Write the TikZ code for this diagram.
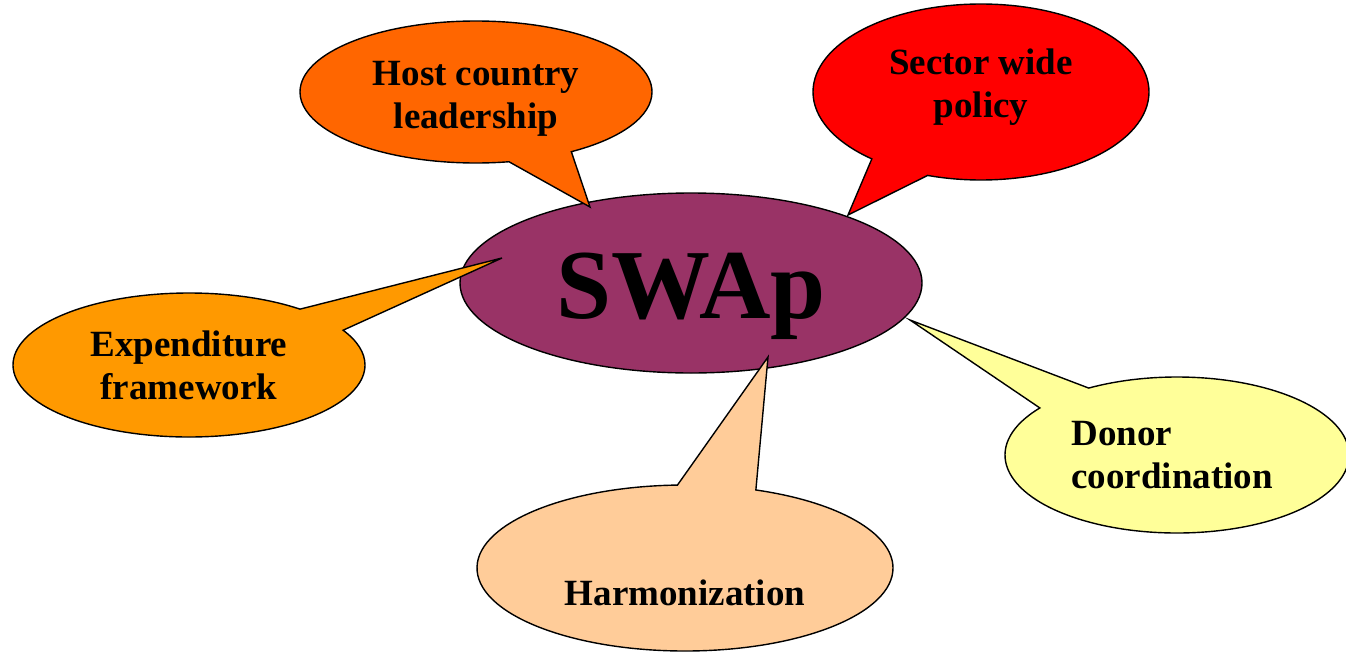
\documentclass[tikz,border=0pt]{standalone}
\usepackage{fontspec}
\setmainfont{Liberation Serif}
\usetikzlibrary{shapes.geometric,shapes.callouts}

\definecolor{swapfill}{HTML}{993366}
\definecolor{hostfill}{HTML}{FF6600}
\definecolor{sectorfill}{HTML}{FF0000}
\definecolor{expendfill}{HTML}{FF9900}
\definecolor{donorfill}{HTML}{FFFF99}
\definecolor{harmonfill}{HTML}{FFCC99}

\begin{document}
\begin{tikzpicture}[
    x=1pt, y=-1pt,
    every node/.style={font=\bfseries\fontsize{37}{43}\selectfont},
    bubble/.style={ellipse callout, draw, line width=1.4pt,
        callout pointer arc=22, inner sep=0pt, align=center}
]
\useasboundingbox (0,0) rectangle (1346,651);

% centre
\node[ellipse, draw, line width=1.4pt, fill=swapfill, inner sep=0pt,
    minimum width=462pt, minimum height=180pt,
    font=\bfseries\fontsize{99}{99}\selectfont,
    text height=70pt, text depth=0pt] (swap) at (691,283) {SWAp};

% where the pointers end
\coordinate (tiphost) at (590,207);
\coordinate (tipsector) at (848,215);
\coordinate (tipexpend) at (502,258);
\coordinate (tipdonor) at (910,320);
\coordinate (tipharmon) at (768,357);

\node[bubble, fill=hostfill, minimum width=352pt, minimum height=142pt,
    text height=80pt, text depth=8pt,
    callout absolute pointer=(tiphost)] (host) at (476,92)
    {Host country\\leadership};
\node[bubble, fill=sectorfill, minimum width=336pt, minimum height=176pt,
    text height=58pt, text depth=8pt,
    callout absolute pointer=(tipsector)] (sector) at (981,92)
    {Sector wide\\policy};
\node[bubble, fill=expendfill, minimum width=352pt, minimum height=144pt,
    callout absolute pointer=(tipexpend)] (expend) at (189,365)
    {Expenditure\\framework};
\node[bubble, fill=donorfill, minimum width=344pt, minimum height=156pt,
    align=left, text width=211pt,
    callout absolute pointer=(tipdonor)] (donor) at (1177,455)
    {Donor\\coordination};
\node[bubble, fill=harmonfill, minimum width=416pt, minimum height=166pt,
    text height=74pt, text depth=0pt,
    callout absolute pointer=(tipharmon)] (harmon) at (685,568)
    {Harmonization};

\end{tikzpicture}
\end{document}
